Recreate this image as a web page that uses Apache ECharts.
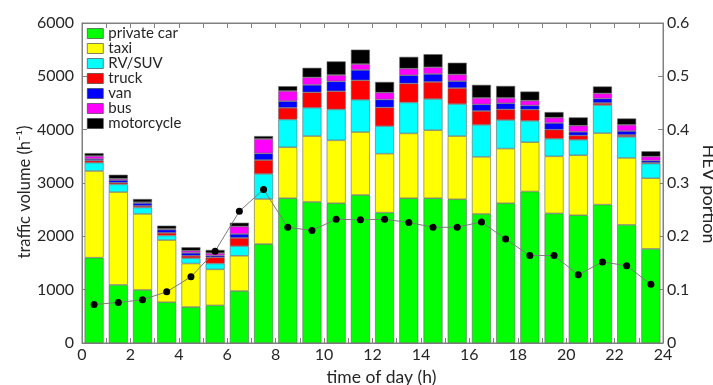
<!DOCTYPE html>
<html>
<head>
<meta charset="utf-8">
<script src="https://cdn.jsdelivr.net/npm/echarts@6/dist/echarts.min.js"></script>
<style>html,body{margin:0;padding:0;background:#fff;}#c{width:713px;height:385px;}</style>
</head>
<body>
<div id="c"></div>
<script>
const hours = ['0.5','1.5','2.5','3.5','4.5','5.5','6.5','7.5','8.5','9.5','10.5','11.5','12.5','13.5','14.5','15.5','16.5','17.5','18.5','19.5','20.5','21.5','22.5','23.5'];
const privateCar = [1600,1090,995,765,675,705,975,1855,2715,2645,2620,2775,2445,2715,2715,2695,2420,2620,2840,2430,2395,2595,2215,1765];
const taxi = [1625,1740,1425,1165,815,675,660,845,955,1235,1180,1180,1105,1215,1275,1185,1070,1025,925,1070,1125,1340,1255,1325];
const rvSuv = [155,145,120,85,100,110,180,470,520,530,580,605,515,580,585,600,600,535,400,330,290,525,395,275];
const truck = [40,30,30,50,45,115,155,260,220,290,340,365,350,355,320,300,260,200,210,170,80,40,35,15];
const van = [30,50,55,60,55,35,75,125,125,140,185,195,150,155,150,130,125,115,80,125,70,85,75,40];
const bus = [55,25,15,15,40,45,140,270,190,140,120,110,130,125,125,125,120,100,90,100,115,95,115,75];
const motorcycle = [55,75,60,60,65,60,70,55,90,180,255,270,200,220,245,220,245,225,170,105,155,130,120,100];
const hevPortion = [0.072,0.076,0.081,0.096,0.124,0.172,0.247,0.288,0.217,0.211,0.232,0.231,0.232,0.226,0.217,0.217,0.227,0.195,0.164,0.164,0.128,0.152,0.145,0.110];
const seriesNames = ['private car','taxi','RV/SUV','truck','van','bus','motorcycle'];
const seriesColors = ['#00ff00','#ffff00','#00ffff','#ff0000','#0000ff','#ff00ff','#000000'];
const seriesValues = [privateCar, taxi, rvSuv, truck, van, bus, motorcycle];

const FONT = 'Lato';
const AX = '#808080';
const TXT = '#262626';

const chart = echarts.init(document.getElementById('c'), null, {renderer:'canvas'});
const barSeries = seriesNames.map((n,i)=>({
  name:n, type:'bar', stack:'total', xAxisIndex:0, yAxisIndex:0,
  data:seriesValues[i], barWidth:19,
  itemStyle:{color:seriesColors[i], borderColor:'#666', borderWidth:0.6},
  emphasis:{disabled:true}, animation:false
}));
chart.setOption({
  animation:false,
  textStyle:{fontFamily:FONT},
  grid:{left:82,right:50,top:23,bottom:42,show:true,borderColor:AX,borderWidth:1,backgroundColor:'transparent',
        containLabel:false, outerBoundsMode:'none'},
  legend:{
    data:seriesNames.map(n=>({name:n,icon:'rect'})), orient:'vertical', left:87, top:26, itemWidth:16, itemHeight:10, itemGap:0,
    textStyle:{fontFamily:FONT,fontSize:15,color:TXT,lineHeight:13.6,padding:[0,0,0,0]},
    itemStyle:{borderColor:'#333',borderWidth:0.6}, padding:0, selectedMode:false
  },
  xAxis:[
    {type:'category', data:hours, position:'bottom', boundaryGap:true,
     axisLine:{show:true,lineStyle:{color:AX}}, axisTick:{show:true,inside:true,length:5,interval:0,lineStyle:{color:AX}},
     axisLabel:{show:false}, splitLine:{show:false}},
    {type:'value', min:0, max:24, interval:2, position:'bottom',
     axisLine:{show:false}, axisTick:{show:false}, splitLine:{show:false},
     axisLabel:{show:true,margin:4,fontSize:16,color:TXT,fontFamily:FONT},
     name:'time of day (h)', nameLocation:'middle', nameGap:23,
     nameTextStyle:{fontSize:17.5,color:TXT,fontFamily:FONT,padding:[0,0,0,18]}},
    {type:'category', data:hours, position:'top', boundaryGap:true,
     axisLine:{show:true,lineStyle:{color:AX}}, axisTick:{show:true,inside:true,length:5,interval:0,lineStyle:{color:AX}},
     axisLabel:{show:false}, splitLine:{show:false}}
  ],
  yAxis:[
    {type:'value', min:0, max:6000, interval:1000, position:'left',
     axisLine:{show:true,lineStyle:{color:AX}}, axisTick:{show:true,inside:true,length:5,lineStyle:{color:AX}},
     splitLine:{show:false}, axisLabel:{margin:8,fontSize:16,color:TXT,fontFamily:FONT,formatter:v=>String(v)},
     name:'traffic volume (h\u207B\u00B9)', nameLocation:'middle', nameGap:49, nameRotate:90, nameMoveOverlap:false,
     nameTextStyle:{fontSize:16.5,color:TXT,fontFamily:FONT,padding:[0,18,0,0]}},
    {type:'value', min:0, max:0.6, interval:0.1, position:'right',
     axisLine:{show:true,lineStyle:{color:AX}}, axisTick:{show:true,inside:true,length:5,lineStyle:{color:AX}},
     splitLine:{show:false}, axisLabel:{margin:4,fontSize:16,color:TXT,fontFamily:FONT},
     name:'HEV portion', nameLocation:'middle', nameGap:32, nameRotate:-90,
     nameTextStyle:{fontSize:18,color:TXT,fontFamily:FONT,padding:[0,0,0,22]}}
  ],
  series: barSeries.concat([{
    name:'HEV portion', type:'line', xAxisIndex:0, yAxisIndex:1, data:hevPortion,
    symbol:'circle', symbolSize:7, z:10,
    itemStyle:{color:'#000'}, lineStyle:{color:'#7a7a7a',width:1},
    emphasis:{disabled:true}
  }])
});
</script>
</body>
</html>
